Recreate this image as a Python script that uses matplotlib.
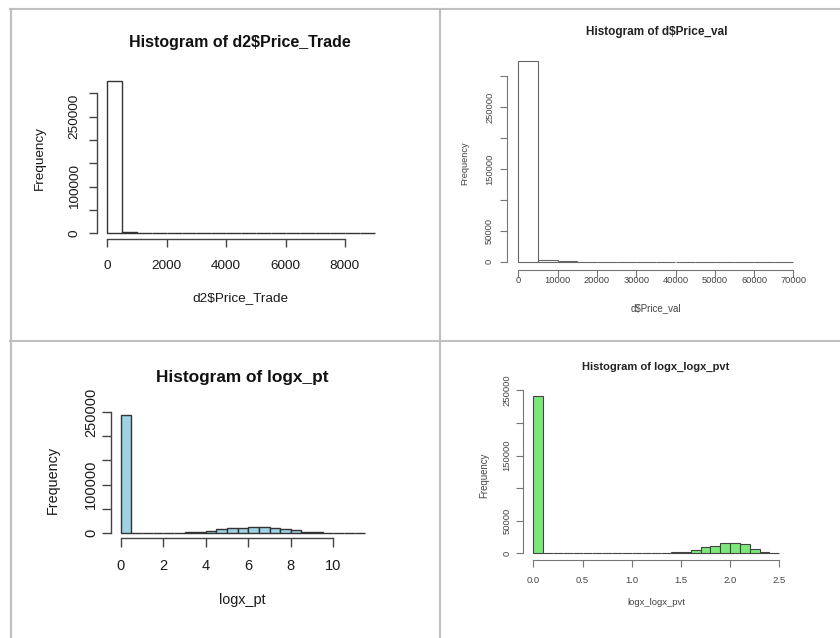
import numpy as np
import matplotlib.pyplot as plt

W, H, DPI = 840, 638, 100
plt.rcParams['font.family'] = ['Liberation Sans', 'DejaVu Sans']

# --- data ---
pt_edges = np.arange(0, 9001, 500)
pt_counts = [325500, 3500, 1000, 400, 200, 150, 100, 80, 60, 50, 40, 30, 30, 20, 20, 20, 10, 10]
pt_xticks = [0, 2000, 4000, 6000, 8000]
pt_yticks = [0, 50000, 100000, 150000, 200000, 250000, 300000]
pt_ylabels = ["0", "", "100000", "", "", "250000", ""]

pv_edges = np.arange(0, 70001, 5000)
pv_counts = [325000, 3500, 800, 300, 150, 100, 80, 60, 40, 30, 20, 20, 10, 10]
pv_xticks = [0, 10000, 20000, 30000, 40000, 50000, 60000, 70000]
pv_yticks = [0, 50000, 100000, 150000, 200000, 250000, 300000]
pv_ylabels = ["0", "50000", "", "150000", "", "250000", ""]

lpt_edges = np.arange(0, 11.51, 0.5)
lpt_counts = [243000, 400, 300, 300, 400, 700, 1400, 2800, 5000, 8300, 10400, 11000,
              12500, 11800, 10400, 8300, 5500, 2800, 1400, 700, 300, 150, 80]
lpt_xticks = [0, 2, 4, 6, 8, 10]
lpt_yticks = [0, 50000, 100000, 150000, 200000, 250000]
lpt_ylabels = ["0", "", "100000", "", "", "250000"]

llp_edges = np.round(np.arange(0, 2.51, 0.1), 1)
llp_counts = [242000, 200, 100, 100, 100, 100, 100, 150, 150, 200, 250, 300, 400, 600,
              1500, 2500, 4600, 9200, 11700, 15300, 16500, 14000, 7100, 2300, 500]
llp_xticks = [0.0, 0.5, 1.0, 1.5, 2.0, 2.5]
llp_xlabels = ["0.0", "0.5", "1.0", "1.5", "2.0", "2.5"]
llp_yticks = [0, 50000, 100000, 150000, 200000, 250000]
llp_ylabels = ["0", "50000", "", "150000", "", "250000"]

fig = plt.figure(figsize=(W / DPI, H / DPI), dpi=DPI)
PX = 72 / DPI  # points per pixel


def ftext(x, y, s, **kw):
    fig.text(x / W, 1 - y / H, s, ha='center', va='center', **kw)


def hist_panel(x0, sx, y0, sy, edges, counts, xticks, xlabels, yticks, ylabels,
               fc, ec, axc, txtc, fs, tlen, ypad, xpad, lw):
    xr = edges[-1] - edges[0]
    xlo, xhi = edges[0] - 0.04 * xr, edges[-1] + 0.04 * xr
    ymax = max(counts)
    ylo, yhi = -0.04 * ymax, 1.04 * ymax
    left = x0 + (xlo - edges[0]) * sx
    width = (xhi - xlo) * sx
    bottom = y0 - ylo * sy
    height = (yhi - ylo) * sy
    ax = fig.add_axes([left / W, 1 - bottom / H, width / W, height / H])
    ax.bar(edges[:-1], counts, width=np.diff(edges), align='edge',
           color=fc, edgecolor=ec, linewidth=lw)
    ax.set_xlim(xlo, xhi)
    ax.set_ylim(ylo, yhi)
    ax.patch.set_alpha(0)
    for s in ['top', 'right']:
        ax.spines[s].set_visible(False)
    for s in ['left', 'bottom']:
        ax.spines[s].set_color(axc)
        ax.spines[s].set_linewidth(lw)
    ax.spines['left'].set_bounds(yticks[0], yticks[-1])
    ax.spines['bottom'].set_bounds(xticks[0], xticks[-1])
    ax.tick_params(length=tlen * PX, width=lw, color=axc, labelcolor=txtc, labelsize=fs)
    ax.tick_params(axis='y', pad=ypad * PX)
    ax.tick_params(axis='x', pad=xpad * PX)
    ax.set_yticks(yticks, ylabels, rotation=90, ha='center', va='center')
    ax.set_xticks(xticks, xlabels, va='center_baseline')
    return ax


# top left
hist_panel(107.3, 59.4 / 2000, 233.3, 23.33 / 50000, pt_edges, pt_counts,
           pt_xticks, [str(v) for v in pt_xticks], pt_yticks, pt_ylabels,
           'white', '#333333', '#444444', '#1a1a1a', 9.7, 8.3, 13.5, 16.6, 1.0)
ftext(240, 43, "Histogram of d2$Price_Trade", fontsize=11.5, fontweight='bold', color='#111111')
ftext(240, 298, "d2$Price_Trade", fontsize=9.7, color='#1a1a1a')
ftext(40, 158, "Frequency", fontsize=9.7, rotation=90, color='#1a1a1a')

# top right
hist_panel(518.3, 39.3 / 10000, 261.7, 30.9 / 50000, pv_edges, pv_counts,
           pv_xticks, [str(v) for v in pv_xticks], pv_yticks, pv_ylabels,
           'white', '#666666', '#777777', '#444444', 6.7, 6.7, 11, 3.5, 0.8)
ftext(656.7, 32, "Histogram of d$Price_val", fontsize=8.5, fontweight='bold', color='#222222')
ftext(656, 308, "d$Price_val", fontsize=7.0, color='#444444')
ftext(465, 163, "Frequency", fontsize=6.7, rotation=90, color='#444444')

# bottom left
hist_panel(120.7, 21.27, 533, 24.2 / 50000, lpt_edges, lpt_counts,
           lpt_xticks, [str(v) for v in lpt_xticks], lpt_yticks, lpt_ylabels,
           '#9fd2e3', '#333333', '#444444', '#1a1a1a', 10.5, 9, 10.6, 17.3, 1.0)
ftext(242.7, 377.7, "Histogram of logx_pt", fontsize=12.4, fontweight='bold', color='#111111')
ftext(242.7, 600, "logx_pt", fontsize=10.4, color='#1a1a1a')
ftext(53, 480, "Frequency", fontsize=10.4, rotation=90, color='#1a1a1a')

# bottom right
hist_panel(533.3, 98.4, 553.3, 32.6 / 50000, llp_edges, llp_counts,
           llp_xticks, llp_xlabels, llp_yticks, llp_ylabels,
           '#7de87a', '#444444', '#777777', '#444444', 6.8, 6.7, 9.6, 13, 0.8)
ftext(656, 366.7, "Histogram of logx_logx_pvt", fontsize=8.0, fontweight='bold', color='#222222')
ftext(656, 602.7, "logx_logx_pvt", fontsize=6.8, color='#444444')
ftext(484, 475, "Frequency", fontsize=6.9, rotation=90, color='#444444')

# table frame around the four pictures
frame = fig.add_axes([0, 0, 1, 1], zorder=-1)
frame.set_xlim(0, W)
frame.set_ylim(H, 0)
frame.axis('off')
grid_c = '#c0c0c0'
frame.plot([10, W], [8.5, 8.5], color=grid_c, lw=1.5)
frame.plot([11, 11], [8.5, H], color=grid_c, lw=1.6)
frame.plot([440, 440], [8.5, H], color=grid_c, lw=1.6)
frame.plot([10, W], [340.5, 340.5], color=grid_c, lw=1.5)

fig.savefig('out.png', dpi=DPI)
